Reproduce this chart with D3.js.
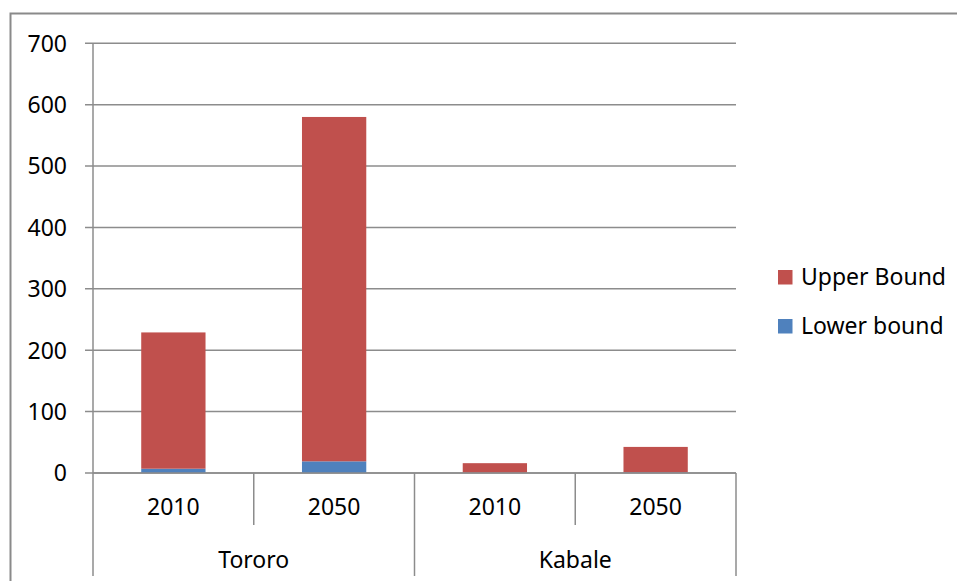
<!DOCTYPE html>
<html>
<head>
<meta charset="utf-8">
<script src="https://cdn.jsdelivr.net/npm/d3@7"></script>
<style>
  body { margin: 0; background: #fff; }
  text { font-family: "Noto Sans", "Open Sans", sans-serif; fill: #000; }
</style>
</head>
<body>
<div id="chart"></div>
<script>
// data
var sites = ["Tororo", "Kabale"];
var years = ["2010", "2050"];
var lowerBound = [7, 19, 0.5, 1];
var upperBound = [222, 561, 15.5, 41.5];
var seriesNames = ["Upper Bound", "Lower bound"];
var seriesColors = ["#C0504D", "#4F81BD"];
var yTicks = [0, 100, 200, 300, 400, 500, 600, 700];

var W = 957, H = 581;
var margin = { top: 43.3, left: 93, right: 221, bottom: 108 };
var plotW = W - margin.left - margin.right,
    plotH = H - margin.top - margin.bottom;

var svg = d3.select("#chart").append("svg")
    .attr("width", W).attr("height", H);

// outer chart border (runs off the right / bottom edge)
svg.append("rect")
    .attr("x", 10.5).attr("y", 13.5)
    .attr("width", W + 10).attr("height", H + 10)
    .attr("fill", "none").attr("stroke", "#8a8a8a").attr("stroke-width", 2);

// one row per category
var rows = [];
sites.forEach(function (s, si) {
    years.forEach(function (y, yi) {
        var i = si * years.length + yi;
        rows.push({ key: s + "|" + y, site: s, year: y, lower: lowerBound[i], upper: upperBound[i] });
    });
});

var x = d3.scaleBand()
    .domain(rows.map(function (d) { return d.key; }))
    .range([margin.left, margin.left + plotW])
    .paddingInner(0.6).paddingOuter(0.3);

var xSite = d3.scaleBand().domain(sites).range([margin.left, margin.left + plotW]);

var y = d3.scaleLinear().domain([0, 700]).range([margin.top + plotH, margin.top]);

var grey = "#8c8c8c";

// gridlines + y ticks
var yAxis = svg.append("g");
yAxis.selectAll("line.grid").data(yTicks).enter().append("line")
    .attr("x1", margin.left - 8).attr("x2", margin.left + plotW)
    .attr("y1", function (d) { return y(d); }).attr("y2", function (d) { return y(d); })
    .attr("stroke", grey).attr("stroke-width", 1.5);
yAxis.selectAll("text").data(yTicks).enter().append("text")
    .attr("x", 67).attr("y", function (d) { return y(d); })
    .attr("dy", "0.36em").attr("text-anchor", "end")
    .style("font-size", "23px")
    .text(function (d) { return d; });

// stacked bars
var stack = d3.stack().keys(["lower", "upper"]);
var layers = stack(rows);
var colorOf = { lower: seriesColors[1], upper: seriesColors[0] };

svg.selectAll("g.layer").data(layers).enter().append("g")
    .attr("fill", function (d) { return colorOf[d.key]; })
    .selectAll("rect").data(function (d) { return d; }).enter().append("rect")
    .attr("x", function (d) { return x(d.data.key); })
    .attr("width", x.bandwidth())
    .attr("y", function (d) { return y(d[1]); })
    .attr("height", function (d) { return y(d[0]) - y(d[1]); });

// y axis line
var bottomY = H - 5;
svg.append("line")
    .attr("x1", margin.left).attr("x2", margin.left)
    .attr("y1", margin.top).attr("y2", bottomY)
    .attr("stroke", grey).attr("stroke-width", 1.5);

// x axis line
svg.append("line")
    .attr("x1", margin.left).attr("x2", margin.left + plotW)
    .attr("y1", y(0)).attr("y2", y(0))
    .attr("stroke", grey).attr("stroke-width", 1.5);

// year-level tick lines
var step = x.step();
rows.forEach(function (d, i) {
    var bx = x(d.key) + x.bandwidth() / 2 + step / 2;
    var isGroupEdge = (i % years.length) === years.length - 1;
    svg.append("line")
        .attr("x1", bx).attr("x2", bx)
        .attr("y1", y(0)).attr("y2", isGroupEdge ? bottomY : 525)
        .attr("stroke", grey).attr("stroke-width", 1.5);
});

// year labels
svg.selectAll("text.year").data(rows).enter().append("text")
    .attr("class", "year")
    .attr("x", function (d) { return x(d.key) + x.bandwidth() / 2; })
    .attr("y", 507).attr("dy", "0.36em")
    .attr("text-anchor", "middle")
    .style("font-size", "23px")
    .text(function (d) { return d.year; });

// site labels
svg.selectAll("text.site").data(sites).enter().append("text")
    .attr("class", "site")
    .attr("x", function (d) { return xSite(d) + xSite.bandwidth() / 2; })
    .attr("y", 560).attr("dy", "0.36em")
    .attr("text-anchor", "middle")
    .style("font-size", "23px")
    .text(function (d) { return d; });

// legend
var legend = svg.append("g").attr("transform", "translate(778,270)");
seriesNames.forEach(function (name, i) {
    var g = legend.append("g").attr("transform", "translate(0," + (i * 49) + ")");
    g.append("rect").attr("width", 14.5).attr("height", 14.5).attr("fill", seriesColors[i]);
    g.append("text").attr("x", 23).attr("y", 7).attr("dy", "0.36em")
        .style("font-size", "23px").text(name);
});
</script>
</body>
</html>
